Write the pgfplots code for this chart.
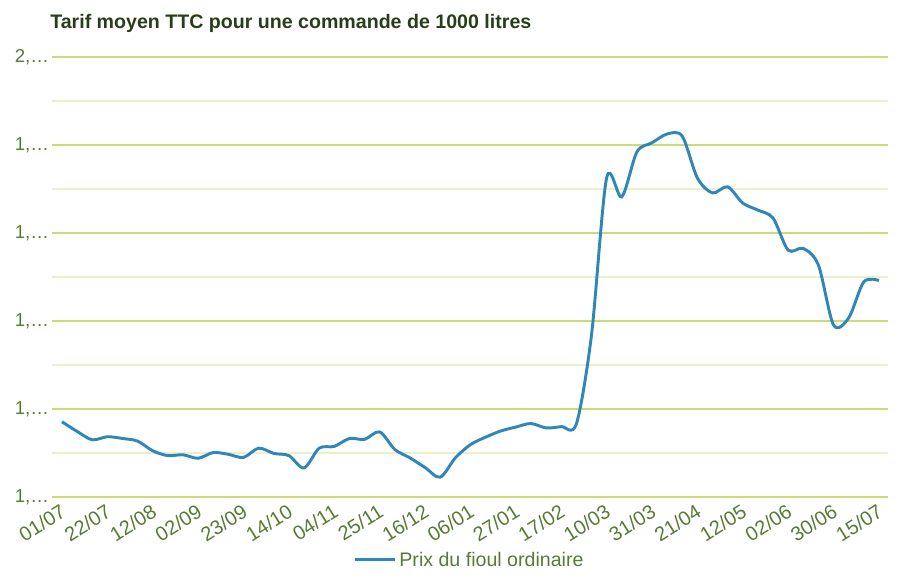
\documentclass[border=0pt]{standalone}
\usepackage{fontspec}
\setmainfont{Liberation Sans}
\usepackage{pgfplots}
\pgfplotsset{compat=1.18}
\definecolor{serie}{RGB}{47,134,184}
\definecolor{gmaj}{RGB}{204,219,120}
\definecolor{gmin}{RGB}{234,240,204}
\definecolor{lab}{RGB}{88,122,52}
\definecolor{ttl}{RGB}{40,62,26}
\begin{document}
\begin{tikzpicture}
\path[use as bounding box] (0,0) rectangle (689.25pt,438.75pt);
\node[anchor=base west, font=\bfseries\fontsize{14.7}{16}\selectfont, text=ttl, inner sep=0pt] at (37.5pt,417pt) {Tarif moyen TTC pour une commande de 1000 litres};
\begin{axis}[
  at={(39pt,66pt)}, anchor=south west,
  width=627pt, height=330pt, scale only axis,
  xmin=-0.66, xmax=54.6, ymin=1, ymax=2,
  axis line style={draw=none},
  major tick length=0pt, minor tick length=0pt,
  ytick={1,1.2,1.4,1.6,1.8,2},
  yticklabels={{1,…},{1,…},{1,…},{1,…},{1,…},{2,…}},
  minor ytick={1.1,1.3,1.5,1.7,1.9},
  ymajorgrids, yminorgrids,
  major grid style={gmaj, line width=1.2pt},
  minor grid style={gmin, line width=1.2pt},
  xtick={0,3,...,54},
  xticklabels={01/07,22/07,12/08,02/09,23/09,14/10,04/11,25/11,16/12,06/01,27/01,17/02,10/03,31/03,21/04,12/05,02/06,30/06,15/07},
  xticklabel style={rotate=32, anchor=north east, inner sep=1pt, xshift=-3pt, yshift=-2pt, font=\fontsize{15}{17}\selectfont, text=lab},
  yticklabel style={anchor=east, inner sep=2pt, font=\fontsize{14}{16}\selectfont, text=lab},
  legend style={at={(0.5,-0.143)}, anchor=center, draw=none, fill=none, font=\fontsize{14.7}{16}\selectfont, text=lab},
  legend image code/.code={\draw[#1] (0pt,0pt) -- (30pt,0pt);},
  clip=false,
]
\addplot[serie, line width=2.2pt, smooth, tension=0.5] table[row sep=\\] {
x y\\
0 1.171\\ 1 1.149\\ 2 1.130\\ 3 1.137\\ 4 1.133\\ 5 1.127\\ 6 1.105\\ 7 1.094\\
8 1.096\\ 9 1.088\\ 10 1.101\\ 11 1.097\\ 12 1.090\\ 13 1.111\\ 14 1.099\\ 15 1.094\\
16 1.066\\ 17 1.111\\ 18 1.115\\ 19 1.133\\ 20 1.131\\ 21 1.148\\ 22 1.108\\ 23 1.089\\
24 1.067\\ 25 1.045\\ 26 1.089\\ 27 1.119\\ 28 1.136\\ 29 1.150\\ 30 1.159\\ 31 1.167\\
32 1.157\\ 33 1.160\\ 34 1.166\\ 35 1.368\\ 36 1.725\\ 37 1.682\\ 38 1.784\\ 39 1.805\\
40 1.825\\ 41 1.820\\ 42 1.725\\ 43 1.691\\ 44 1.705\\ 45 1.668\\ 46 1.652\\ 47 1.634\\
48 1.561\\ 49 1.565\\ 50 1.527\\ 51 1.391\\ 52 1.407\\ 53 1.489\\ 54 1.492\\
};
\addlegendentry{Prix du fioul ordinaire}
\end{axis}
\end{tikzpicture}
\end{document}
